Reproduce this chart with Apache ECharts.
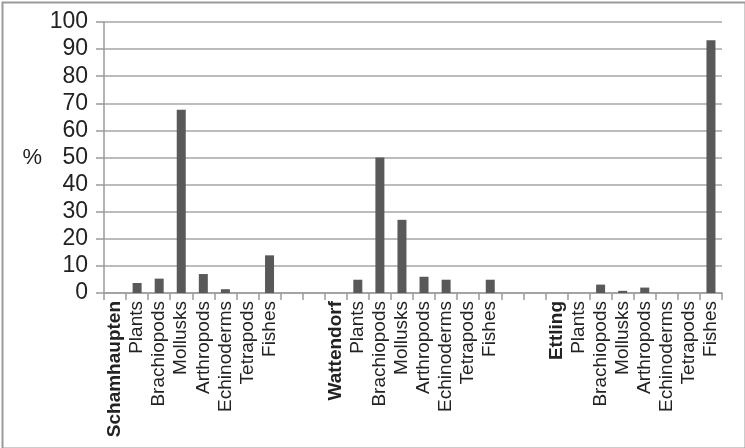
<!DOCTYPE html>
<html><head><meta charset="utf-8">
<script src="https://cdn.jsdelivr.net/npm/echarts@6/dist/echarts.min.js"></script>
<style>html,body{margin:0;padding:0;background:#fff}#c{width:745px;height:448px}</style>
</head><body><div id="c"></div>
<script>
var sites = ['Schamhaupten', 'Wattendorf', 'Ettling'];
var taxa = ['Plants', 'Brachiopods', 'Mollusks', 'Arthropods', 'Echinoderms', 'Tetrapods', 'Fishes'];
var schamhaupten = [3.7, 5.3, 67.6, 7.0, 1.4, 0, 13.9];
var wattendorf = [4.9, 50, 27.0, 6.0, 4.9, 0, 4.9];
var ettling = [0, 3.1, 0.8, 2.0, 0, 0, 93.3];
var yTicks = [0, 10, 20, 30, 40, 50, 60, 70, 80, 90, 100];

var siteValues = [schamhaupten, wattendorf, ettling];
var categories = [], values = [];
var blankCount = 0;
sites.forEach(function (s, i) {
  if (i > 0) {
    for (var k = 0; k < 2; k++) {
      blankCount++;
      categories.push({ value: new Array(blankCount + 1).join(' ') });
      values.push(null);
    }
  }
  categories.push({ value: s, textStyle: { fontWeight: 'bold' } });
  values.push(null);
  taxa.forEach(function (t, j) {
    categories.push({ value: t });
    values.push(siteValues[i][j]);
  });
});

var FONT = '"Liberation Sans", Arial, sans-serif';
var chart = echarts.init(document.getElementById('c'), null, { renderer: 'canvas' });
chart.setOption({
  animation: false,
  backgroundColor: '#fff',
  grid: { left: 104, right: 23, top: 22, bottom: 155 },
  graphic: [{
    type: 'rect', left: 0, top: 0,
    shape: { x: 1, y: 1, width: 743, height: 446 },
    style: { fill: 'none', stroke: '#9a9a9a', lineWidth: 2 }
  }],
  xAxis: {
    type: 'category',
    data: categories,
    boundaryGap: true,
    axisLine: { lineStyle: { color: '#9a9a9a', width: 1.5 } },
    axisTick: { show: true, length: 7, interval: 0, lineStyle: { color: '#9a9a9a', width: 1.5 } },
    axisLabel: {
      interval: 0, rotate: 90, margin: 8,
      fontFamily: FONT, fontSize: 19, color: '#222'
    }
  },
  yAxis: {
    type: 'value', min: 0, max: 100, interval: 10,
    name: '%', nameLocation: 'middle', nameRotate: 0, nameGap: 62,
    nameTextStyle: { fontFamily: FONT, fontSize: 22, color: '#222' },
    axisLine: { show: true, lineStyle: { color: '#9a9a9a', width: 1.5 } },
    axisTick: { show: true, length: 8, lineStyle: { color: '#9a9a9a', width: 1.5 } },
    splitLine: { show: true, lineStyle: { color: '#a6a6a6', width: 1.5 } },
    axisLabel: {
      margin: 16,
      fontFamily: FONT, fontSize: 23, color: '#222',
      formatter: function (v) { return yTicks.indexOf(v) >= 0 ? String(v) : ''; }
    }
  },
  series: [{
    type: 'bar',
    data: values,
    barWidth: 9,
    itemStyle: { color: '#595959' }
  }]
});
</script>
</body></html>
